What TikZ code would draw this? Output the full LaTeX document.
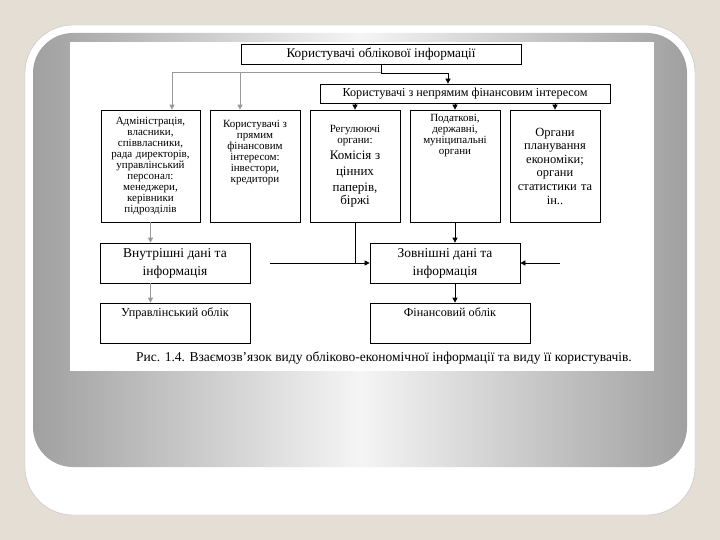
\documentclass[tikz,border=0pt]{standalone}
\usepackage{fontspec}
\setmainfont{Liberation Serif}
\usetikzlibrary{positioning,arrows.meta}
\definecolor{slidebg}{HTML}{E4DED4}
\definecolor{framegray}{HTML}{A0A0A0}
\newcommand\rowfont{\fontsize{11}{11}\selectfont}
\newcommand\bigln{\fontsize{13}{16}\selectfont}
\tikzset{
  box/.style={draw=black,line width=.7pt,inner sep=1pt,align=center,font=\fontsize{12.2}{12}\selectfont},
  col/.style={box,minimum width=90pt,minimum height=112pt,text width=86pt,font=\rowfont},
  datbox/.style={box,minimum width=150pt,minimum height=40pt,font=\fontsize{13.5}{18}\selectfont},
  txt/.style={align=center,inner sep=0pt},
  line/.style={line width=.7pt},
  gline/.style={line width=1pt,draw=black!40},
  arr/.style={line,-{Triangle[length=5pt,width=5pt]}},
  garr/.style={gline,-{Triangle[length=5pt,width=5pt]}}
}
\begin{document}
\begin{tikzpicture}[x=1pt,y=-1pt]
\useasboundingbox (0,0) rectangle (720,540);
\fill[slidebg] (0,0) rectangle (720,540);
\filldraw[fill=white,draw=black!25,rounded corners=48pt] (25,25) rectangle (695,515);
\shade[left color=framegray,right color=framegray,middle color=white!96!black,rounded corners=40pt] (33,33) rectangle (687,467);
\fill[white] (70,42) rectangle (654,371);

\node[box,minimum width=280pt,minimum height=20pt,font=\fontsize{13.3}{14}\selectfont] (usr) at (381,54) {Користувачі облікової інформації};
\node[box,minimum width=290pt,minimum height=19pt] (ind) at (465,93.5) {Користувачі з непрямим фінансовим інтересом};

\node[col,minimum width=99pt,text width=95pt] (adm) at (150.5,166) {Адміністрація,\\власники,\\співвласники,\\рада директорів,\\управлінський\\персонал:\\менеджери,\\керівники\\підрозділів};
\node[col] (dir) at (255,166) {};
\node[txt,font=\rowfont,below=10pt of dir.north] (dirtxt) {Користувачі з\\прямим\\фінансовим\\інтересом:\\інвестори,\\кредитори};
\node[col] (reg) at (355,166) {Регулюючі\\органи:\\\bigln Комісія з\\\bigln цінних\\\bigln паперів,\\\bigln біржі};
\node[col] (tax) at (455,166) {};
\node[txt,font=\rowfont,below=4pt of tax.north] (taxtxt) {Податкові,\\державні,\\муніципальні\\органи};
\node[col,font=\fontsize{12.5}{13.6}\selectfont] (plan) at (555,166) {Органи\\планування\\економіки;\\органи\\статистики та\\ін..};

\node[datbox] (intern) at (175,263) {Внутрішні дані та\\інформація};
\node[datbox] (extern) at (445,263) {Зовнішні дані та\\інформація};
\node[datbox] (mgmt) at (175,323) {};
\node[txt,font=\fontsize{12.2}{12}\selectfont,below=5pt of mgmt.north] (mgmttxt) {Управлінський облік};
\node[datbox,minimum width=160pt] (fin) at (450,323) {};
\node[txt,font=\fontsize{12.2}{12}\selectfont,below=5pt of fin.north] (fintxt) {Фінансовий облік};

\node[txt,font=\fontsize{13.5}{14}\selectfont] (cap) at (384,358) {Рис. 1.4. Взаємозв'язок виду обліково-економічної інформації та виду її користувачів.};

\coordinate (busL) at (172,73);
\coordinate (busM) at (240,73);
\coordinate (busR) at (448,73);
\coordinate (feedL) at (270,263);
\coordinate (feedR) at (560,263);
\draw[line] (usr.south) -- (usr.south |- busL) -- (busR);
\draw[gline] (busL) -- (usr.south |- busL);
\draw[garr] (busL) -- (busL |- adm.north);
\draw[garr] (busM) -- (busM |- dir.north);
\draw[arr] (busR) -- (busR |- ind.north);
\draw[arr] (ind.south -| reg.north) -- (reg.north);
\draw[arr] (ind.south -| tax.north) -- (tax.north);
\draw[arr] (ind.south -| plan.north) -- (plan.north);
\draw[garr] (adm.south) -- (adm.south |- intern.north);
\draw[garr] (adm.south |- intern.south) -- (adm.south |- mgmt.north);
\draw[line] (reg.south) -- (reg.south |- extern.west);
\draw[arr] (feedL) -- (extern.west);
\draw[arr] (feedR) -- (extern.east);
\draw[arr] (tax.south) -- (tax.south |- extern.north);
\draw[arr] (tax.south |- extern.south) -- (tax.south |- fin.north);
\end{tikzpicture}
\end{document}
